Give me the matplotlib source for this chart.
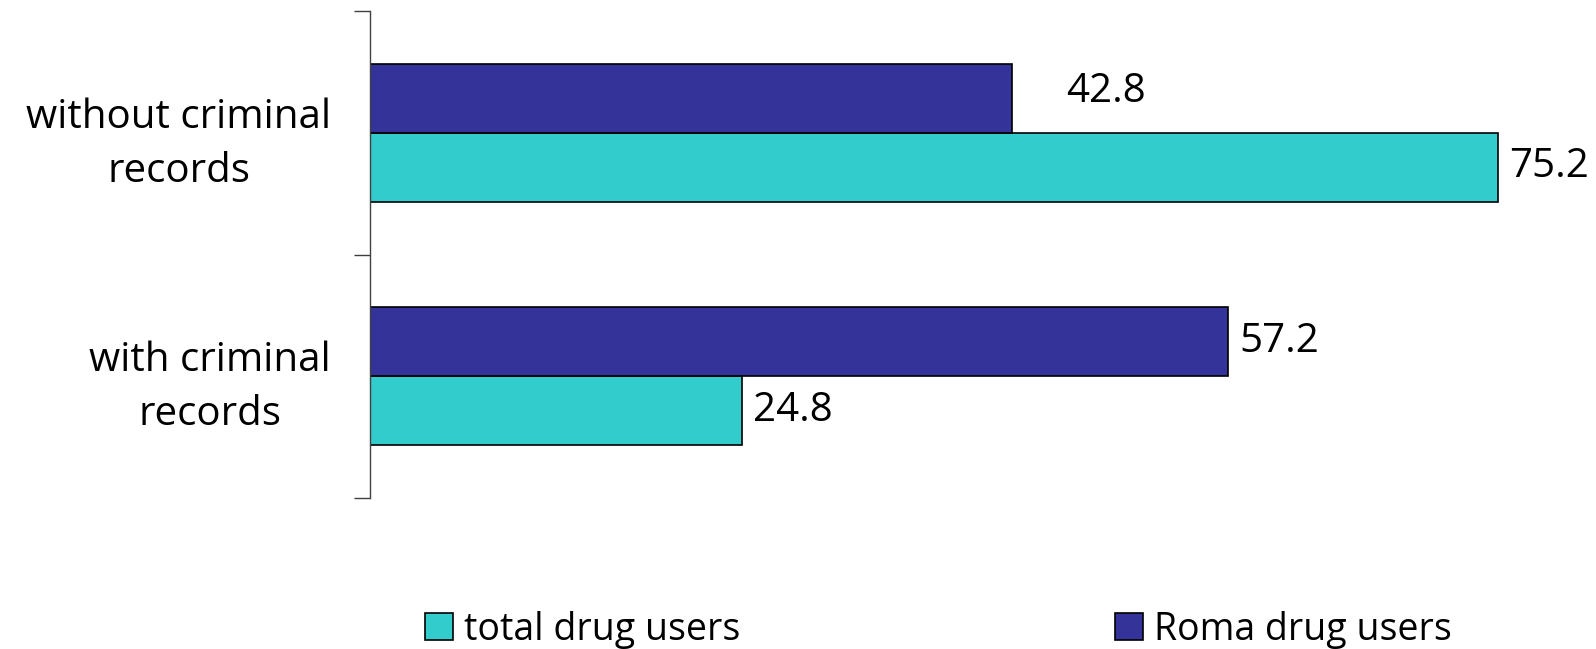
import numpy as np
import matplotlib.pyplot as plt

categories = ['with criminal\nrecords', 'without criminal\nrecords']
total_users = [24.8, 75.2]
roma_users = [57.2, 42.8]
series_names = ['total drug users', 'Roma drug users']

plt.rcParams['font.family'] = ['Open Sans', 'DejaVu Sans']

fig = plt.figure(figsize=(15.96, 6.49), dpi=100)
ax = fig.add_axes([0.2318, 0.2327, 0.7682, 0.7503])

y = np.arange(len(categories))
h = 0.283
b_total = ax.barh(y - h, total_users, height=h, align='edge', color='#33CCCC',
                  edgecolor='black', linewidth=1.2, label=series_names[0])
b_roma = ax.barh(y, roma_users, height=h, align='edge', color='#333399',
                 edgecolor='black', linewidth=1.2, label=series_names[1])

ax.set_xlim(0, 81.7)
ax.set_ylim(-0.5, 1.5)

for bars in (b_total, b_roma):
    for r in bars:
        v = r.get_width()
        off = 39 if v == 42.8 else 8
        dy = 5 if v == 42.8 else 0
        ax.annotate(f'{v:.1f}', (v, r.get_y() + r.get_height() / 2),
                    xytext=(off, dy), textcoords='offset points',
                    ha='left', va='center', fontsize=29)

for s in ['top', 'right', 'bottom']:
    ax.spines[s].set_visible(False)
ax.spines['left'].set_color('#404040')
ax.spines['left'].set_linewidth(1)
ax.set_xticks([])
ax.set_yticks([-0.5, 0.5, 1.5])
ax.set_yticklabels([])
ax.tick_params(axis='y', which='major', length=11.5, width=1, color='#404040')
ax.set_yticks(y, minor=True)
ax.set_yticklabels(categories, minor=True, fontsize=29, multialignment='center',
                   linespacing=1.45)
ax.tick_params(axis='y', which='minor', length=0, pad=28)

fig.legend(handles=[b_total, b_roma], labels=series_names, loc='center',
           bbox_to_anchor=(0.588, 0.03), ncol=2, frameon=False, fontsize=27,
           handlelength=0.73, handleheight=0.73, handletextpad=0.3,
           columnspacing=10.0)

fig.savefig('out.png', dpi=100)
